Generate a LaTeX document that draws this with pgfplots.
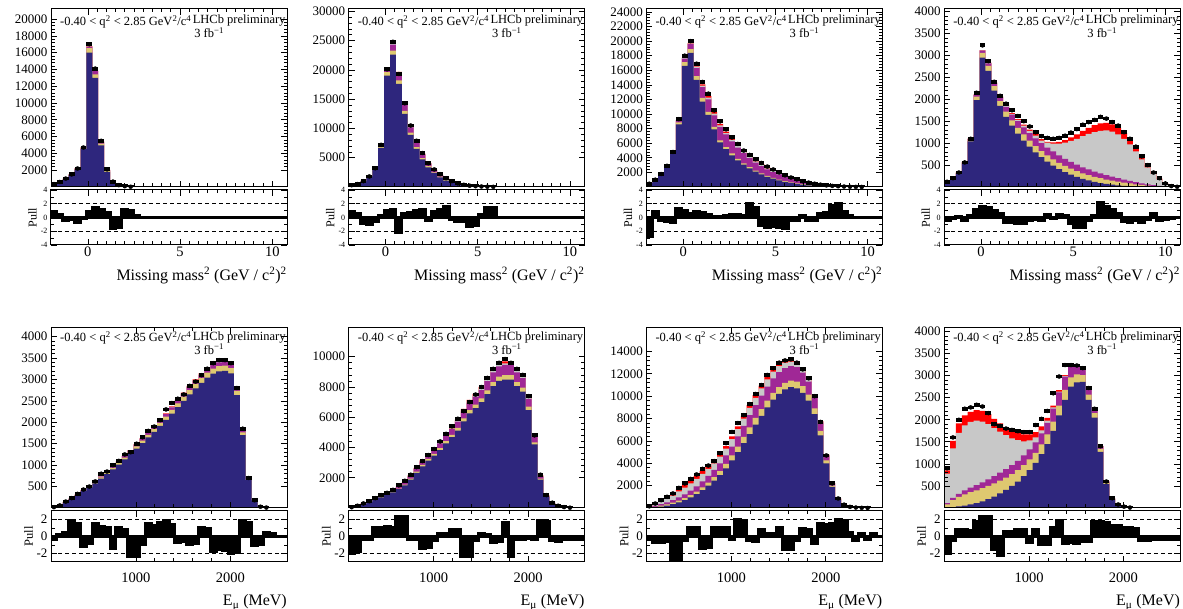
\documentclass[border=0pt]{standalone}
\usepackage{fontspec}
\setmainfont{Liberation Serif}
\usepackage{pgfplots}
\usepackage{pgfplotstable}
\pgfplotsset{compat=1.18}
\definecolor{cB}{RGB}{46,38,125}
\definecolor{cY}{RGB}{222,200,112}
\definecolor{cM}{RGB}{160,40,150}
\definecolor{cG}{RGB}{200,200,200}
\definecolor{cR}{RGB}{255,0,0}
\def\lbl{\fontsize{12.5}{13}\selectfont}

% ---------- top row: missing mass^2, bins of 0.32 (left edges) ----------
\pgfplotstableread{
x B Y M G R D P
-2.00 320 335 340 342 344 350 0.8
-1.68 560 585 592 595 597 600 0.5
-1.36 950 990 1000 1005 1008 1000 -0.5
-1.04 1420 1480 1495 1500 1505 1500 -0.3
-0.72 2100 2190 2210 2220 2225 2200 -0.8
-0.40 4500 4650 4700 4710 4715 4700 -0.2
-0.08 16000 16550 16700 16750 16780 17000 0.8
0.24 13000 13400 13800 13850 13870 14100 1.4
0.56 4950 5150 5350 5400 5420 5500 1.1
0.88 1800 1900 2000 2030 2040 2100 0.7
1.20 560 600 650 670 680 640 -1.6
1.52 190 205 225 235 240 220 -1.5
1.84 55 62 70 74 76 90 1.2
2.16 18 21 24 26 27 30 1.0
2.48 5 6 7 8 8 nan 0.3
2.80 0 0 0 0 0 nan 0
10.80 0 0 0 0 0 nan 0
}\tabA
\pgfplotstableread{
x B Y M G R D P
-2.00 270 285 292 295 297 300 0.8
-1.68 470 495 505 510 512 500 0.6
-1.36 980 1030 1050 1058 1062 1000 -0.9
-1.04 1800 1880 1910 1920 1925 1800 -1.0
-0.72 3100 3230 3290 3305 3310 3200 -0.6
-0.40 6700 6950 7080 7110 7120 7200 0.3
-0.08 19000 19600 19900 19950 19980 20100 1.0
0.24 22600 23300 24300 24400 24450 24800 1.2
0.56 17600 18200 19500 19600 19650 19300 -2.2
0.88 12500 13000 14000 14100 14150 14300 0.6
1.20 8900 9300 10200 10300 10350 10500 0.7
1.52 6500 6800 7600 7700 7750 7900 1.0
1.84 4700 4950 5550 5640 5680 5800 1.1
2.16 3350 3550 4000 4080 4110 4050 -0.5
2.48 2350 2500 2850 2920 2950 3000 0.9
2.80 1650 1770 2030 2090 2110 2200 1.1
3.12 1100 1190 1380 1430 1450 1500 1.6
3.44 720 790 930 970 985 1000 -0.3
3.76 450 500 600 630 640 620 -0.6
4.08 270 305 370 390 398 380 -0.6
4.40 160 180 225 238 243 220 -1.3
4.72 90 103 130 138 142 130 -1.2
5.04 50 57 72 77 79 85 0.4
5.36 25 29 37 40 41 50 1.4
5.68 12 14 18 19 20 25 1.4
6.00 5 6 8 9 9 nan 0
6.32 0 0 0 0 0 nan 0
10.80 0 0 0 0 0 nan 0
}\tabB
\pgfplotstableread{
x B Y M G R D P
-2.00 540 565 585 592 598 450 -2.8
-1.68 900 940 970 980 985 1000 0.8
-1.36 1650 1720 1780 1795 1805 1780 -0.4
-1.04 2700 2800 2900 2925 2940 2900 -0.6
-0.72 4500 4650 4810 4850 4870 4800 -0.7
-0.40 8600 8850 9100 9150 9180 9300 1.3
-0.08 16600 17100 17600 17700 17750 18000 1.0
0.24 18400 18900 19600 19700 19750 20000 0.6
0.56 14700 15200 16300 16450 16550 16900 0.8
0.88 11700 12200 13700 13900 14050 14400 0.7
1.20 9900 10300 12000 12250 12450 12800 0.5
1.52 7900 8250 9800 10050 10250 10500 0.2
1.84 6100 6400 8250 8450 8650 9000 0.1
2.16 5200 5450 7200 7400 7600 7900 0.3
2.48 4350 4600 6250 6450 6620 6800 0.5
2.80 3650 3870 5400 5600 5780 5900 0.5
3.12 3050 3250 4650 4850 5000 5000 0.3
3.44 2550 2730 3950 4120 4250 4400 2.0
3.76 2100 2260 3350 3500 3620 3800 1.5
4.08 1720 1870 2870 3010 3120 3300 -1.1
4.40 1400 1530 2420 2560 2660 2800 -1.5
4.72 1130 1250 2040 2170 2260 2400 -1.3
5.04 900 1010 1720 1840 1920 2000 -1.5
5.36 710 810 1420 1530 1600 1600 -1.6
5.68 550 640 1160 1260 1320 1300 -0.5
6.00 420 500 940 1030 1080 1050 -0.4
6.32 310 380 740 820 860 800 0.3
6.64 225 285 570 640 675 600 -0.5
6.96 160 210 430 490 520 450 -0.4
7.28 110 150 310 360 385 320 0.6
7.60 75 105 220 260 280 220 0.7
7.92 50 72 150 180 195 150 1.8
8.24 32 48 100 122 132 100 2.0
8.56 20 30 62 78 84 60 0.8
8.88 12 18 37 46 50 30 0.3
9.20 6 10 20 25 27 15 0
9.52 3 5 10 12 13 5 0
9.84 1 2 4 5 6 nan 0
10.16 0 1 2 2 2 nan 0
10.48 0 0 0 0 0 nan 0
10.80 0 0 0 0 0 nan 0
}\tabC
\pgfplotstableread{
x B Y M G R D P
-2.00 100 105 108 110 112 120 -0.4
-1.68 180 188 192 194 195 200 -0.2
-1.36 310 322 328 330 331 330 0.2
-1.04 540 560 568 570 572 560 -0.5
-0.72 1040 1080 1095 1100 1102 1100 0.3
-0.40 1980 2060 2100 2108 2110 2150 1.2
-0.08 2950 3060 3110 3118 3120 3230 1.6
0.24 2650 2760 2820 2830 2835 2870 1.4
0.56 2200 2300 2370 2380 2385 2400 1.0
0.88 1850 1960 2050 2060 2065 2080 0.6
1.20 1600 1720 1830 1845 1855 1900 -0.8
1.52 1400 1520 1650 1670 1685 1750 -0.7
1.84 1220 1350 1500 1530 1550 1620 -0.9
2.16 1060 1200 1360 1400 1425 1500 -0.9
2.48 920 1060 1230 1280 1310 1380 -0.5
2.80 790 930 1110 1170 1205 1250 -0.3
3.12 680 820 1000 1060 1090 1160 -0.5
3.44 580 720 900 1010 1030 1120 0.4
3.76 490 630 810 990 1020 1100 -0.2
4.08 410 550 720 990 1030 1120 0.4
4.40 340 480 640 1010 1070 1170 0.3
4.72 280 420 570 1050 1130 1240 -0.9
5.04 230 360 510 1100 1200 1320 -1.5
5.36 185 310 450 1160 1280 1420 -1.4
5.68 150 270 400 1210 1350 1480 -0.5
6.00 115 230 350 1250 1410 1530 0.3
6.32 90 200 310 1280 1450 1600 2.2
6.64 70 170 270 1290 1460 1560 1.6
6.96 52 145 235 1260 1430 1480 1.2
7.28 38 120 200 1200 1350 1400 0.6
7.60 27 100 170 1100 1230 1250 -0.6
7.92 18 80 140 970 1080 1100 -0.8
8.24 12 62 110 810 900 920 -0.4
8.56 8 46 84 630 700 700 -0.7
8.88 5 32 60 450 500 500 -0.3
9.20 3 20 40 300 330 330 0.6
9.52 2 11 23 175 190 200 -0.4
9.84 1 5 11 80 85 80 -0.3
10.16 0 2 4 20 25 20 -0.2
10.48 0 1 1 5 6 5 0
10.80 0 0 0 0 0 nan 0
}\tabD
% ---------- bottom row: E_mu, bins of 62.5 MeV (left edges) ----------
\pgfplotstableread{
x B Y M G R D P
100 23 24 25 25 25 20 -0.3
162.5 65 68 69 70 70 60 0.2
225 130 135 139 139 140 150 0.5
287.5 205 212 218 219 220 230 1.9
350 288 299 307 308 310 330 1.5
412.5 391 405 416 418 420 430 -1.2
475 484 502 515 517 520 500 -0.8
537.5 577 598 614 617 620 620 1.5
600 688 714 733 736 740 800 1.2
662.5 791 820 842 846 850 850 1.0
725 902 936 960 965 970 1000 -1.4
787.5 1014 1052 1079 1085 1090 1100 1.1
850 1135 1177 1208 1214 1220 1250 0.8
912.5 1256 1303 1337 1343 1350 1300 -2.4
975 1386 1438 1475 1483 1490 1500 -2.3
1037.5 1516 1573 1614 1622 1630 1650 -1.0
1100 1646 1708 1752 1761 1770 1800 1.5
1162.5 1776 1843 1891 1900 1910 1900 1.3
1225 1916 1988 2039 2050 2060 2050 1.6
1287.5 2055 2133 2188 2199 2210 2300 1.9
1350 2204 2287 2346 2358 2370 2450 1.4
1412.5 2353 2441 2505 2517 2530 2550 -0.7
1475 2502 2596 2663 2677 2690 2650 -0.6
1537.5 2651 2750 2822 2836 2850 2850 -0.9
1600 2790 2895 2970 2985 3000 2950 -0.8
1662.5 2920 3030 3109 3124 3140 3100 1.1
1725 3041 3156 3237 3254 3270 3250 0.9
1787.5 3134 3252 3336 3353 3370 3380 -1.8
1850 3190 3310 3396 3413 3430 3450 -1.5
1912.5 3199 3320 3406 3423 3440 3450 -1.6
1975 3143 3262 3346 3363 3380 3380 -2.0
2037.5 2632 2731 2802 2816 2830 2800 -1.9
2100 1702 1766 1812 1821 1830 1850 1.9
2162.5 651 676 693 697 700 700 1.6
2225 177 183 188 189 190 180 -1.1
2287.5 37 39 40 40 40 30 -1.0
2350 9 10 10 10 10 10 0.5
2412.5 0 0 0 0 0 nan 0.4
2475 0 0 0 0 0 nan 0
2537.5 0 0 0 0 0 nan 0
2600 0 0 0 0 0 nan 0
}\tabE
\pgfplotstableread{
x B Y M G R D P
100 52 54 58 59 60 50 -2.0
162.5 140 145 156 158 160 150 -1.8
225 263 272 293 296 300 300 -0.4
287.5 403 416 449 453 460 450 -0.3
350 543 561 605 611 620 650 1.1
412.5 700 724 780 788 800 850 1.0
475 858 887 956 965 980 1000 1.2
537.5 1033 1068 1151 1162 1180 1200 1.0
600 1243 1285 1385 1399 1420 1500 2.3
662.5 1488 1539 1658 1675 1700 1800 2.3
725 1881 1946 2096 2118 2150 2200 -0.4
787.5 2319 2398 2584 2610 2650 2700 -0.4
850 2756 2851 3071 3103 3150 3100 -1.4
912.5 3133 3240 3491 3526 3580 3500 -1.3
975 3456 3575 3851 3891 3950 3900 -0.5
1037.5 3833 3964 4271 4314 4380 4400 0.3
1100 4270 4416 4758 4807 4880 4900 0.3
1162.5 4681 4842 5216 5270 5350 5400 0.8
1225 5119 5294 5704 5762 5850 5900 0.8
1287.5 5731 5928 6386 6452 6550 6400 -2.4
1350 6256 6471 6971 7043 7150 7000 -2.4
1412.5 6606 6833 7361 7437 7550 7500 -0.5
1475 7000 7240 7800 7880 8000 8000 0.3
1537.5 7525 7783 8385 8471 8600 8600 0.2
1600 8050 8326 8970 9062 9200 9200 -0.7
1662.5 8400 8688 9360 9456 9600 9600 -0.6
1725 8488 8779 9458 9555 9700 9850 1.7
1787.5 8488 8779 9458 9555 9700 9600 -2.4
1850 8050 8326 8970 9062 9200 9200 -0.3
1912.5 7700 7964 8580 8668 8800 8800 -0.3
1975 6475 6697 7215 7289 7400 7400 -0.2
2037.5 4200 4344 4680 4728 4800 4800 -0.3
2100 1881 1946 2096 2118 2150 2200 1.9
2162.5 726 751 809 818 830 850 1.8
2225 315 326 351 355 360 350 -0.5
2287.5 140 145 156 158 160 150 -0.6
2350 57 59 63 64 65 60 -0.3
2412.5 19 20 21 22 22 20 -0.3
2475 4 4 5 5 5 nan -0.3
2537.5 0 0 0 0 0 nan -0.3
2600 0 0 0 0 0 nan 0
}\tabF
\pgfplotstableread{
x B Y M G R D P
100 20 40 70 120 140 150 -0.3
162.5 60 110 190 320 370 400 -0.7
225 130 210 340 560 650 700 -0.7
287.5 220 330 500 820 950 1000 -0.6
350 340 480 700 1100 1260 1300 -2.7
412.5 500 660 950 1480 1650 1800 -2.7
475 700 880 1220 1830 2040 2200 -0.5
537.5 950 1150 1550 2200 2450 2600 1.1
600 1250 1470 1930 2600 2850 3000 1.1
662.5 1600 1850 2380 3050 3320 3500 -1.4
725 2000 2280 2870 3500 3760 3800 -1.3
787.5 2450 2760 3400 4000 4250 4200 1.1
850 2950 3300 4000 4600 4850 4900 1.0
912.5 3550 3950 4700 5300 5540 5800 1.1
975 4250 4700 5500 6150 6400 6800 -0.3
1037.5 5000 5500 6400 7050 7300 7600 2.0
1100 5800 6350 7350 8000 8250 8300 1.9
1162.5 6600 7200 8300 8950 9200 9300 -0.5
1225 7450 8050 9200 9850 10100 10200 -0.6
1287.5 8250 8850 10050 10700 10950 11000 0.8
1350 9000 9600 10850 11500 11750 11900 0.3
1412.5 9700 10300 11600 12200 12450 12500 0.3
1475 10200 10800 12150 12700 12900 13000 1.1
1537.5 10600 11200 12500 13000 13200 13200 -1.5
1600 10800 11400 12700 13100 13250 13300 -1.5
1662.5 10700 11300 12600 12950 13050 13000 -0.5
1725 10300 10900 12100 12350 12450 12400 0.9
1787.5 9600 10150 11300 11500 11550 11600 0.8
1850 8400 8900 9900 10050 10100 10000 -0.8
1912.5 6500 6900 7650 7750 7780 7700 1.5
1975 4000 4250 4700 4750 4770 4700 1.4
2037.5 1880 2000 2200 2220 2230 2200 1.5
2100 720 770 840 850 855 850 2.0
2162.5 250 270 295 300 302 300 1.9
2225 85 90 98 100 101 100 0.5
2287.5 32 35 38 39 40 40 -0.5
2350 12 13 14 15 15 15 0.4
2412.5 4 4 5 5 5 5 -0.4
2475 0 0 0 0 0 nan 0.3
2537.5 0 0 0 0 0 nan 0
2600 0 0 0 0 0 nan 0
}\tabG
\pgfplotstableread{
x B Y M G R D P
100 10 80 110 780 850 900 -2.0
162.5 20 180 230 1350 1520 1600 -0.5
225 35 250 320 1700 1920 2000 0.8
287.5 55 310 400 1870 2100 2250 0.8
350 80 360 460 1950 2180 2280 0.7
412.5 110 400 520 1980 2220 2340 1.8
475 150 450 580 1960 2200 2300 2.4
537.5 200 500 650 1900 2130 2150 2.4
600 260 560 720 1810 2020 1900 -1.5
662.5 330 620 800 1730 1920 1860 -2.2
725 410 690 880 1650 1830 1800 0.6
787.5 500 770 970 1580 1760 1770 0.6
850 600 860 1070 1540 1700 1740 0.8
912.5 720 970 1190 1510 1670 1720 0.8
975 860 1100 1330 1530 1670 1720 -0.7
1037.5 1020 1250 1490 1600 1720 1880 0.8
1100 1220 1440 1690 1760 1850 2020 -0.9
1162.5 1450 1670 1930 1980 2040 2200 -0.9
1225 1750 1960 2250 2280 2320 2600 1.0
1287.5 2100 2320 2620 2640 2670 2980 1.9
1350 2450 2680 2980 2995 3010 3240 -0.8
1412.5 2750 2960 3210 3220 3230 3240 -0.7
1475 2850 3030 3250 3255 3260 3230 -0.8
1537.5 2860 3010 3180 3185 3190 3170 -0.6
1600 2450 2570 2690 2695 2700 2720 -0.6
1662.5 2050 2150 2240 2245 2250 2250 1.8
1725 1270 1340 1400 1402 1405 1400 1.8
1787.5 540 570 600 601 602 600 1.7
1850 195 208 218 219 220 220 1.3
1912.5 70 75 79 80 80 80 1.3
1975 26 28 29 30 30 30 1.0
2037.5 9 9 10 10 10 10 1.0
2100 0 0 0 0 0 nan 0.9
2162.5 0 0 0 0 0 nan -0.5
2225 0 0 0 0 0 nan -0.5
2287.5 0 0 0 0 0 nan -0.3
2350 0 0 0 0 0 nan -0.3
2412.5 0 0 0 0 0 nan -0.3
2475 0 0 0 0 0 nan -0.3
2537.5 0 0 0 0 0 nan -0.3
2600 0 0 0 0 0 nan 0
}\tabH

\pgfplotsset{
  base/.style={scale only axis, width=236pt, axis on top,
    axis line style={line width=1pt, black},
    tick style={line width=0.7pt, black}, tick align=inside,
    major tick length=6pt, minor tick length=3.5pt,
    scaled ticks=false,
    /pgf/number format/fixed, /pgf/number format/1000 sep={},
    /pgf/number format/assume math mode=true,
    yticklabel style={font=\fontsize{13}{13}\selectfont},
    xticklabel style={font=\fontsize{14.5}{14.5}\selectfont, anchor=base}},
  mainTop/.style={base, height=178pt, xmin=-2, xmax=10.8, ymin=0,
    xtick={0,5,10}, minor x tick num=9, xticklabels={}, minor y tick num=4},
  pullTop/.style={base, height=55pt, xmin=-2, xmax=10.8, ymin=-4, ymax=4,
    ytick={-4,-2,0,2,4}, minor y tick num=1, xtick={0,5,10}, minor x tick num=9,
    yticklabel style={font=\fontsize{8}{8}\selectfont},
    xticklabel style={yshift=-12pt},
    ylabel={Pull}, ylabel style={at={(axis description cs:-0.078,0.5)}, anchor=center, font=\fontsize{12}{12}\selectfont}},
  mainBot/.style={base, height=180pt, xmin=100, xmax=2600, ymin=0,
    xtick={1000,2000}, minor x tick num=4, xticklabels={}, minor y tick num=4},
  pullBot/.style={base, height=51pt, xmin=100, xmax=2600, ymin=-3, ymax=3,
    ytick={-2,0,2}, minor y tick num=1, xtick={1000,2000}, minor x tick num=4,
    xticklabel style={yshift=-21pt},
    ylabel={Pull}, ylabel style={at={(axis description cs:-0.095,0.5)}, anchor=center, font=\fontsize{12.5}{12.5}\selectfont}},
}

% #1 style, #2 x, #3 y, #4 ymax, #5 ytick, #6 table, #7 half bin, #8 rel y of text
\newcommand\mainpanel[8]{%
\begin{axis}[#1, at={(#2pt,#3pt)}, anchor=south west, ymax=#4, ytick={#5}]
\addplot[const plot mark left, fill=cR, draw=none] table[x=x,y=R]{#6} \closedcycle;
\addplot[const plot mark left, fill=cG, draw=none] table[x=x,y=G]{#6} \closedcycle;
\addplot[const plot mark left, fill=cM, draw=none] table[x=x,y=M]{#6} \closedcycle;
\addplot[const plot mark left, fill=cY, draw=none] table[x=x,y=Y]{#6} \closedcycle;
\addplot[const plot mark left, fill=cB, draw=none] table[x=x,y=B]{#6} \closedcycle;
\addplot[black, only marks, mark=*, mark size=2pt,
  error bars/.cd, x dir=both, x fixed=#7, error mark=none,
  error bar style={line width=3.8pt}] table[x expr=\thisrow{x}+#7, y=D]{#6};
\node[anchor=west, font=\lbl, inner sep=0pt] at (rel axis cs:0.038,#8)
  {-0.40 < q\textsuperscript{2} < 2.85 GeV\textsuperscript{2}/c\textsuperscript{4}};
\node[anchor=west, font=\lbl, inner sep=0pt] at (rel axis cs:0.6,#8) [yshift=1pt] {LHCb preliminary};
\node[anchor=center, font=\lbl, inner sep=0pt] at (rel axis cs:0.67,#8) [yshift=-11pt] {3 fb\textsuperscript{−1}};
\end{axis}}

% #1 style, #2 x, #3 y, #4 table, #5 xmin, #6 xmax
\newcommand\pullpanel[6]{%
\begin{axis}[#1, at={(#2pt,#3pt)}, anchor=south west]
\draw[line width=1pt, dash pattern=on 4pt off 3pt] (axis cs:#5,2) -- (axis cs:#6,2);
\draw[line width=1pt, dash pattern=on 4pt off 3pt] (axis cs:#5,-2) -- (axis cs:#6,-2);
\addplot[const plot mark left, fill=black, draw=black, line width=3pt] table[x=x,y=P]{#4} \closedcycle;
\end{axis}}

\newcommand\mmtitle{Missing mass\textsuperscript{2} (GeV / c\textsuperscript{2})\textsuperscript{2}}
\newcommand\emtitle{E\textsubscript{μ} (MeV)}

\begin{document}
\begin{tikzpicture}
\useasboundingbox (0,0) rectangle (1183pt,609pt);
% top row
\mainpanel{mainTop}{51}{422}{21200}{2000,4000,...,20000}{\tabA}{0.16}{0.927}
\pullpanel{pullTop}{51}{364}{\tabA}{-2}{10.8}
\mainpanel{mainTop}{348.7}{422}{30400}{5000,10000,...,30000}{\tabB}{0.16}{0.927}
\pullpanel{pullTop}{348.7}{364}{\tabB}{-2}{10.8}
\mainpanel{mainTop}{646.4}{422}{24400}{2000,4000,...,24000}{\tabC}{0.16}{0.927}
\pullpanel{pullTop}{646.4}{364}{\tabC}{-2}{10.8}
\mainpanel{mainTop}{944.1}{422}{4060}{500,1000,...,4000}{\tabD}{0.16}{0.927}
\pullpanel{pullTop}{944.1}{364}{\tabD}{-2}{10.8}
% bottom row
\mainpanel{mainBot}{51}{101}{4200}{500,1000,...,4000}{\tabE}{31.25}{0.944}
\pullpanel{pullBot}{51}{47}{\tabE}{100}{2600}
\mainpanel{mainBot}{348.7}{101}{11900}{2000,4000,...,10000}{\tabF}{31.25}{0.944}
\pullpanel{pullBot}{348.7}{47}{\tabF}{100}{2600}
\mainpanel{mainBot}{646.4}{101}{16100}{2000,4000,...,14000}{\tabG}{31.25}{0.944}
\pullpanel{pullBot}{646.4}{47}{\tabG}{100}{2600}
\mainpanel{mainBot}{944.1}{101}{4080}{500,1000,...,4000}{\tabH}{31.25}{0.944}
\pullpanel{pullBot}{944.1}{47}{\tabH}{100}{2600}
% axis titles
\foreach \xr in {287,584.7,882.4,1180.1}{
  \node[anchor=base east, font=\fontsize{16}{16}\selectfont, inner sep=0pt] at (\xr pt,328pt) {\mmtitle};
  \node[anchor=base east, font=\fontsize{16}{16}\selectfont, inner sep=0pt] at (\xr pt,3pt) {\emtitle};
}
\end{tikzpicture}
\end{document}
